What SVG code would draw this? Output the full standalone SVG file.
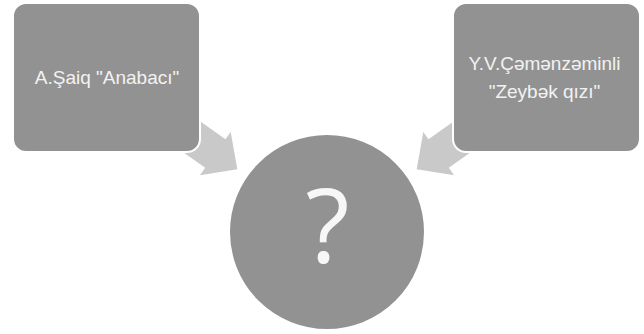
<svg xmlns="http://www.w3.org/2000/svg" width="644" height="334" viewBox="0 0 644 334">
  <style>
    .box { fill: #929292; stroke: #ffffff; stroke-width: 2; }
    .arrow { fill: #c9c9c9; }
    .lbl { fill: #f2f2f2; font-family: "Liberation Sans", Arial, sans-serif; font-size: 19px; text-anchor: middle; }
    .q { fill: #f7f7f7; font-family: "Open Sans", "Liberation Sans", sans-serif; font-size: 102px; text-anchor: middle; }
  </style>
  <defs>
    <polygon id="arr" points="0,0 -27,-26.5 -27,-17.5 -95,-17.5 -95,17.5 -27,17.5 -27,26.5"/>
  </defs>
  <rect width="644" height="334" fill="#ffffff"/>
  <g id="connectors">
    <use href="#arr" class="arrow" transform="translate(237.3,169.3) rotate(35.5)"/>
    <use href="#arr" class="arrow" transform="translate(416.7,169.3) rotate(144.5)"/>
  </g>
  <g id="node-left">
    <rect class="box" x="13" y="3" width="187" height="149" rx="13"/>
    <text class="lbl" x="107" y="84">A.Şaiq "Anabacı"</text>
  </g>
  <g id="node-right">
    <rect class="box" x="453" y="3" width="187" height="149" rx="13"/>
    <text class="lbl" x="544.5" y="70">Y.V.Çəmənzəminli</text>
    <text class="lbl" x="544.5" y="98">"Zeybək qızı"</text>
  </g>
  <g id="node-center">
    <circle class="box" cx="327" cy="232" r="98"/>
    <text class="q" x="327.5" y="263">?</text>
  </g>
</svg>
